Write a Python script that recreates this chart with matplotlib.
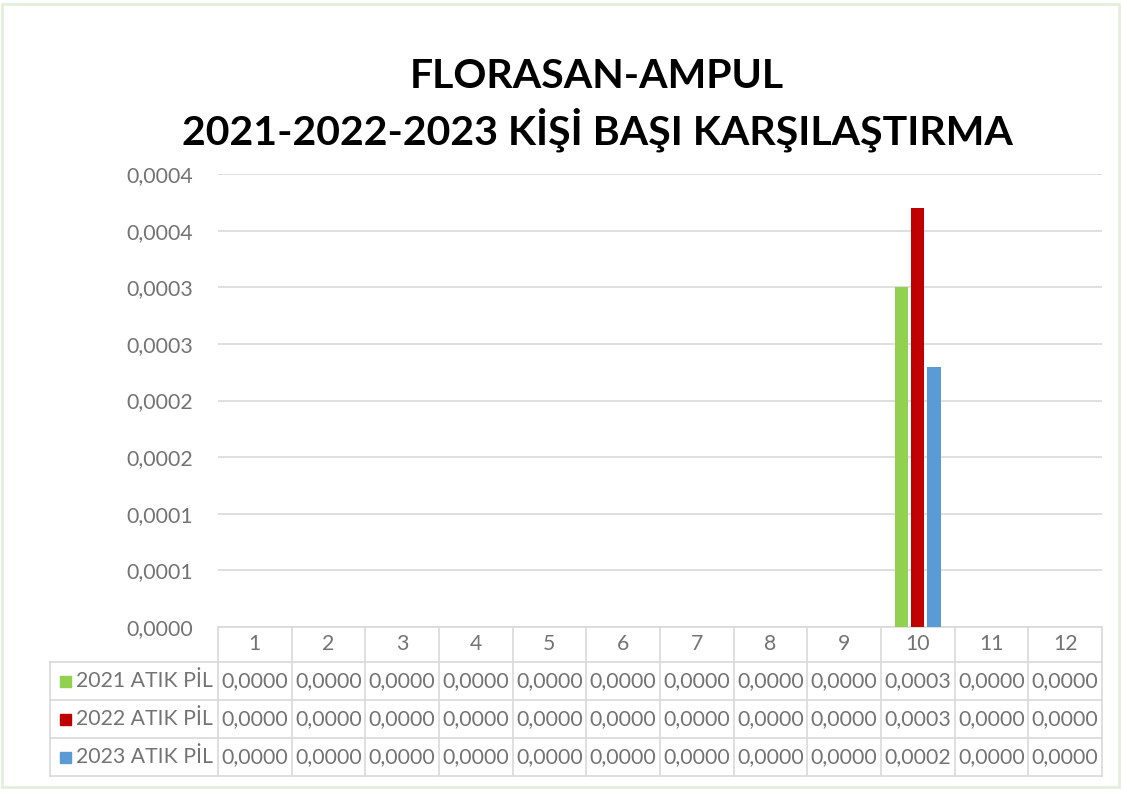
import matplotlib
matplotlib.use("Agg")
import matplotlib.pyplot as plt
from matplotlib.patches import Rectangle
from matplotlib.transforms import blended_transform_factory

plt.rcParams['font.family'] = ['Lato', 'DejaVu Sans']

# ---- Data ----
title_lines = ["FLORASAN-AMPUL", "2021-2022-2023 KİŞİ BAŞI KARŞILAŞTIRMA"]
months = ["1", "2", "3", "4", "5", "6", "7", "8", "9", "10", "11", "12"]
series_names = ["2021 ATIK PİL", "2022 ATIK PİL", "2023 ATIK PİL"]
vals_2021 = [0, 0, 0, 0, 0, 0, 0, 0, 0, 0.000300, 0, 0]
vals_2022 = [0, 0, 0, 0, 0, 0, 0, 0, 0, 0.000370, 0, 0]
vals_2023 = [0, 0, 0, 0, 0, 0, 0, 0, 0, 0.000230, 0, 0]
# values as printed in the data table of the original
table_2021 = ["0,0000"] * 9 + ["0,0003", "0,0000", "0,0000"]
table_2022 = ["0,0000"] * 9 + ["0,0003", "0,0000", "0,0000"]
table_2023 = ["0,0000"] * 9 + ["0,0002", "0,0000", "0,0000"]
yticks = [0, 0.00005, 0.0001, 0.00015, 0.0002, 0.00025, 0.0003, 0.00035, 0.0004]
ytick_labels = ["0,0000", "0,0001", "0,0001", "0,0002", "0,0002",
                "0,0003", "0,0003", "0,0004", "0,0004"]

colors = ["#92D050", "#C00000", "#5B9BD5"]
text_gray = "#737373"
grid_gray = "#D9D9D9"
fs = 15.3

W, H = 1123, 789
fig = plt.figure(figsize=(W / 100, H / 100), dpi=100)

# plot area in pixels
left, right, top, bottom = 218, 1102, 174, 627
ax = fig.add_axes([left / W, 1 - bottom / H, (right - left) / W, (bottom - top) / H])

x = list(range(1, 13))
bw = 0.18
offs = [-0.22, 0.0, 0.22]
for vals, c, o in zip([vals_2021, vals_2022, vals_2023], colors, offs):
    ax.bar([xi + o for xi in x], vals, width=bw, color=c, zorder=3)

ax.set_xlim(0.5, 12.5)
ax.set_ylim(0, 0.0004)
ax.set_yticks(yticks)
ax.set_yticklabels(ytick_labels, fontsize=fs, color=text_gray)
ax.tick_params(axis='y', length=0, pad=18)
ax.set_xticks([])
ax.grid(axis='y', color=grid_gray, linewidth=1.2, zorder=0)
for s in ax.spines.values():
    s.set_visible(False)

# ---- Data table below the plot ----
tr = blended_transform_factory(ax.transData, fig.transFigure)
figy = lambda py: 1 - py / H
row_edges = [627, 662, 700, 738, 776]
x_label_left = 50

line_kw = dict(color=grid_gray, linewidth=1.2, clip_on=False)
# horizontal lines
ax.plot([0.5, 12.5], [figy(627)] * 2, transform=tr, **line_kw)
for py in row_edges[1:]:
    fig.add_artist(plt.Line2D([x_label_left / W, right / W], [figy(py)] * 2, **line_kw))
# vertical lines
for i in range(13):
    ax.plot([i + 0.5, i + 0.5], [figy(627), figy(776)], transform=tr, **line_kw)
fig.add_artist(plt.Line2D([x_label_left / W] * 2, [figy(662), figy(776)], **line_kw))

# header row (months)
for xi, m in zip(x, months):
    ax.text(xi, figy((627 + 662) / 2), m, transform=tr, ha='center', va='center',
            fontsize=fs, color=text_gray)

# series rows
rows = [table_2021, table_2022, table_2023]
for r, (name, c, cells) in enumerate(zip(series_names, colors, rows)):
    yc = figy((row_edges[r + 1] + row_edges[r + 2]) / 2)
    fig.add_artist(Rectangle((60 / W, yc - 5.5 / H), 11 / W, 11 / H,
                             transform=fig.transFigure, color=c))
    fig.text(76 / W, yc, name, ha='left', va='center', fontsize=fs, color=text_gray)
    for xi, t in zip(x, cells):
        ax.text(xi, yc, t, transform=tr, ha='center', va='center',
                fontsize=fs, color=text_gray)

# ---- Title ----
fig.text(597 / W, figy(88), title_lines[0], ha='center', va='baseline',
         fontsize=29.5, fontweight='bold', color='black')
fig.text(597 / W, figy(145), title_lines[1], ha='center', va='baseline',
         fontsize=29.5, fontweight='bold', color='black')

# thin outer frame
fig.add_artist(Rectangle((2 / W, 2 / H), (W - 6) / W, (H - 6) / H,
                         transform=fig.transFigure, fill=False,
                         edgecolor="#E2EFDA", linewidth=2))

fig.savefig("out.png", dpi=100)
